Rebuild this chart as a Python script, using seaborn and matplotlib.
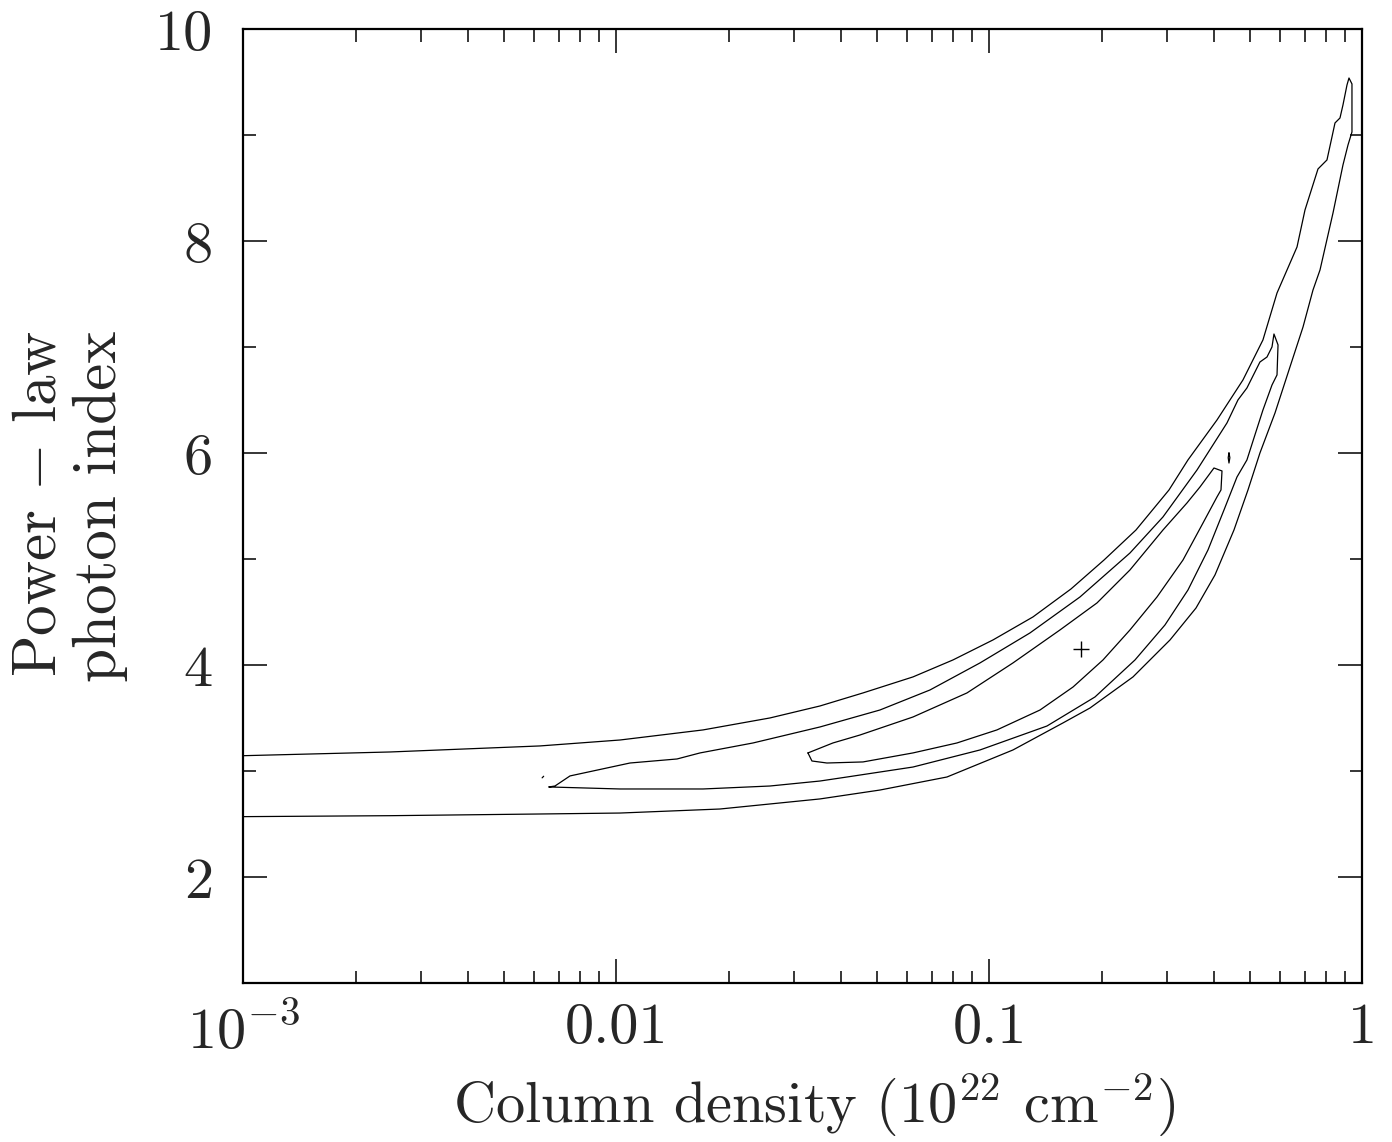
import seaborn as sns
import matplotlib.pyplot as plt
from matplotlib.ticker import FixedLocator, LogLocator, MultipleLocator, NullFormatter

# contour outlines: column density (1e22 cm^-2) vs photon index
outer_nh = [0.001, 0.00247, 0.006236, 0.01022, 0.01706, 0.02579, 0.03512, 0.0458, 0.06235,
            0.0798, 0.1022, 0.1308, 0.1654, 0.2028, 0.247, 0.3029, 0.3405, 0.4073, 0.478,
            0.5409, 0.59, 0.6675, 0.7012, 0.7598, 0.8031, 0.8283, 0.8439, 0.8703, 0.8865,
            0.9087, 0.92, 0.9371, 0.9371, 0.9144, 0.8865, 0.8336, 0.7693, 0.7367, 0.6927,
            0.6391, 0.5827, 0.531, 0.4932, 0.4523, 0.4023, 0.3578, 0.3048, 0.2425, 0.186,
            0.1574, 0.1156, 0.07692, 0.05085, 0.03512, 0.01894, 0.01022, 0.006236, 0.00247, 0.001]
outer_gam = [3.149, 3.184, 3.241, 3.297, 3.392, 3.505, 3.618, 3.741, 3.892,
             4.052, 4.241, 4.458, 4.722, 4.995, 5.278, 5.656, 5.939, 6.316, 6.693,
             7.071, 7.514, 7.948, 8.297, 8.684, 8.769, 8.986, 9.118, 9.165, 9.288,
             9.476, 9.542, 9.486, 9.033, 8.91, 8.722, 8.269, 7.731, 7.542, 7.193,
             6.816, 6.382, 6.005, 5.656, 5.278, 4.854, 4.542, 4.241, 3.892, 3.599,
             3.458, 3.203, 2.948, 2.825, 2.741, 2.646, 2.608, 2.599, 2.583, 2.574]

mid_nh = [0.006592, 0.006841, 0.007506, 0.01087, 0.01453, 0.01675, 0.02323, 0.03512, 0.05085,
          0.06926, 0.0943, 0.1284, 0.1748, 0.238, 0.2918, 0.36, 0.4332, 0.4636, 0.49,
          0.531, 0.5546, 0.572, 0.579, 0.5937, 0.59, 0.572, 0.5409, 0.5148, 0.49, 0.4608,
          0.4253, 0.3853, 0.3405, 0.2954, 0.2455, 0.1918, 0.1426, 0.0943, 0.06235, 0.0415,
          0.03512, 0.02579, 0.01706, 0.01022, 0.006592]
mid_gam = [2.854, 2.863, 2.958, 3.08, 3.118, 3.175, 3.269, 3.42, 3.58,
           3.769, 4.024, 4.307, 4.646, 5.061, 5.401, 5.844, 6.288, 6.505, 6.618,
           6.863, 6.91, 7.005, 7.127, 7.024, 6.741, 6.646, 6.41, 6.175, 5.939, 5.778,
           5.467, 5.09, 4.712, 4.382, 4.052, 3.703, 3.429, 3.203, 3.042, 2.948,
           2.91, 2.863, 2.835, 2.835, 2.854]

inner_nh = [0.03261, 0.03804, 0.04495, 0.06235, 0.08703, 0.1156, 0.1545, 0.1942, 0.238,
            0.2918, 0.3384, 0.3667, 0.3998, 0.4201, 0.4175, 0.4073, 0.3736, 0.3302, 0.2812,
            0.238, 0.2015, 0.1675, 0.1366, 0.1047, 0.0818, 0.06235, 0.0458, 0.03666,
            0.03342, 0.03261]
inner_gam = [3.175, 3.269, 3.344, 3.514, 3.741, 4.024, 4.335, 4.59, 4.901,
             5.278, 5.533, 5.684, 5.863, 5.835, 5.656, 5.59, 5.344, 4.995, 4.646,
             4.335, 4.052, 3.797, 3.58, 3.392, 3.269, 3.175, 3.09, 3.08,
             3.099, 3.175]

# two tiny islands
dot_nh = [0.00632, 0.00638]
dot_gam = [2.94, 2.955]
blob_nh = [0.4386, 0.441, 0.4386, 0.4365, 0.4386]
blob_gam = [6.005, 5.96, 5.91, 5.96, 6.005]

# best fit
best_nh = [0.1764]
best_gam = [4.16]

xticks = [1e-3, 1e-2, 0.1, 1]
xticklabels = [r"$10^{-3}$", "0.01", "0.1", "1"]
yticks = [2, 4, 6, 8, 10]

sns.set_style("ticks")
plt.rcParams["font.family"] = "serif"
plt.rcParams["font.serif"] = ["cmr10"]
plt.rcParams["mathtext.fontset"] = "cm"
plt.rcParams["axes.formatter.use_mathtext"] = True

fig = plt.figure(figsize=(13.92, 11.42), dpi=100)
ax = fig.add_axes([0.1749, 0.1388, 0.8039, 0.8354])
ax.set_xscale("log")

for xs, ys in [(outer_nh, outer_gam), (mid_nh, mid_gam), (inner_nh, inner_gam),
               (dot_nh, dot_gam), (blob_nh, blob_gam)]:
    sns.lineplot(x=xs, y=ys, sort=False, estimator=None, color="black", lw=0.9, ax=ax)

ax.plot(best_nh, best_gam, marker="+", color="black", ms=12, mew=1.0, ls="none")

ax.set_xlim(1e-3, 1)
ax.set_ylim(1, 10)
ax.xaxis.set_major_locator(FixedLocator(xticks))
ax.set_xticklabels(xticklabels)
ax.xaxis.set_minor_locator(LogLocator(base=10, subs=range(2, 10)))
ax.xaxis.set_minor_formatter(NullFormatter())
ax.set_yticks(yticks)
ax.set_yticklabels([str(v) for v in yticks])
ax.yaxis.set_minor_locator(MultipleLocator(1))

for side in ax.spines.values():
    side.set_linewidth(1.6)
    side.set_color("black")
ax.tick_params(which="both", direction="in", top=True, right=True, width=1.1, color="black")
ax.tick_params(which="major", length=17, labelsize=42)
ax.tick_params(axis="x", which="major", pad=14)
ax.tick_params(axis="y", which="major", pad=22)
ax.tick_params(which="minor", length=9)

ax.set_xlabel(r"Column density ($10^{22}$ cm$^{-2}$)", fontsize=42)
ax.xaxis.set_label_coords(0.51, -0.092)
fig.text(0.0503, 0.557, "Power$\\,-\\,$law\nphoton index", rotation=90, fontsize=44,
         ha="center", va="center", multialignment="right", linespacing=1.1)

plt.savefig("out.png", dpi=100)
